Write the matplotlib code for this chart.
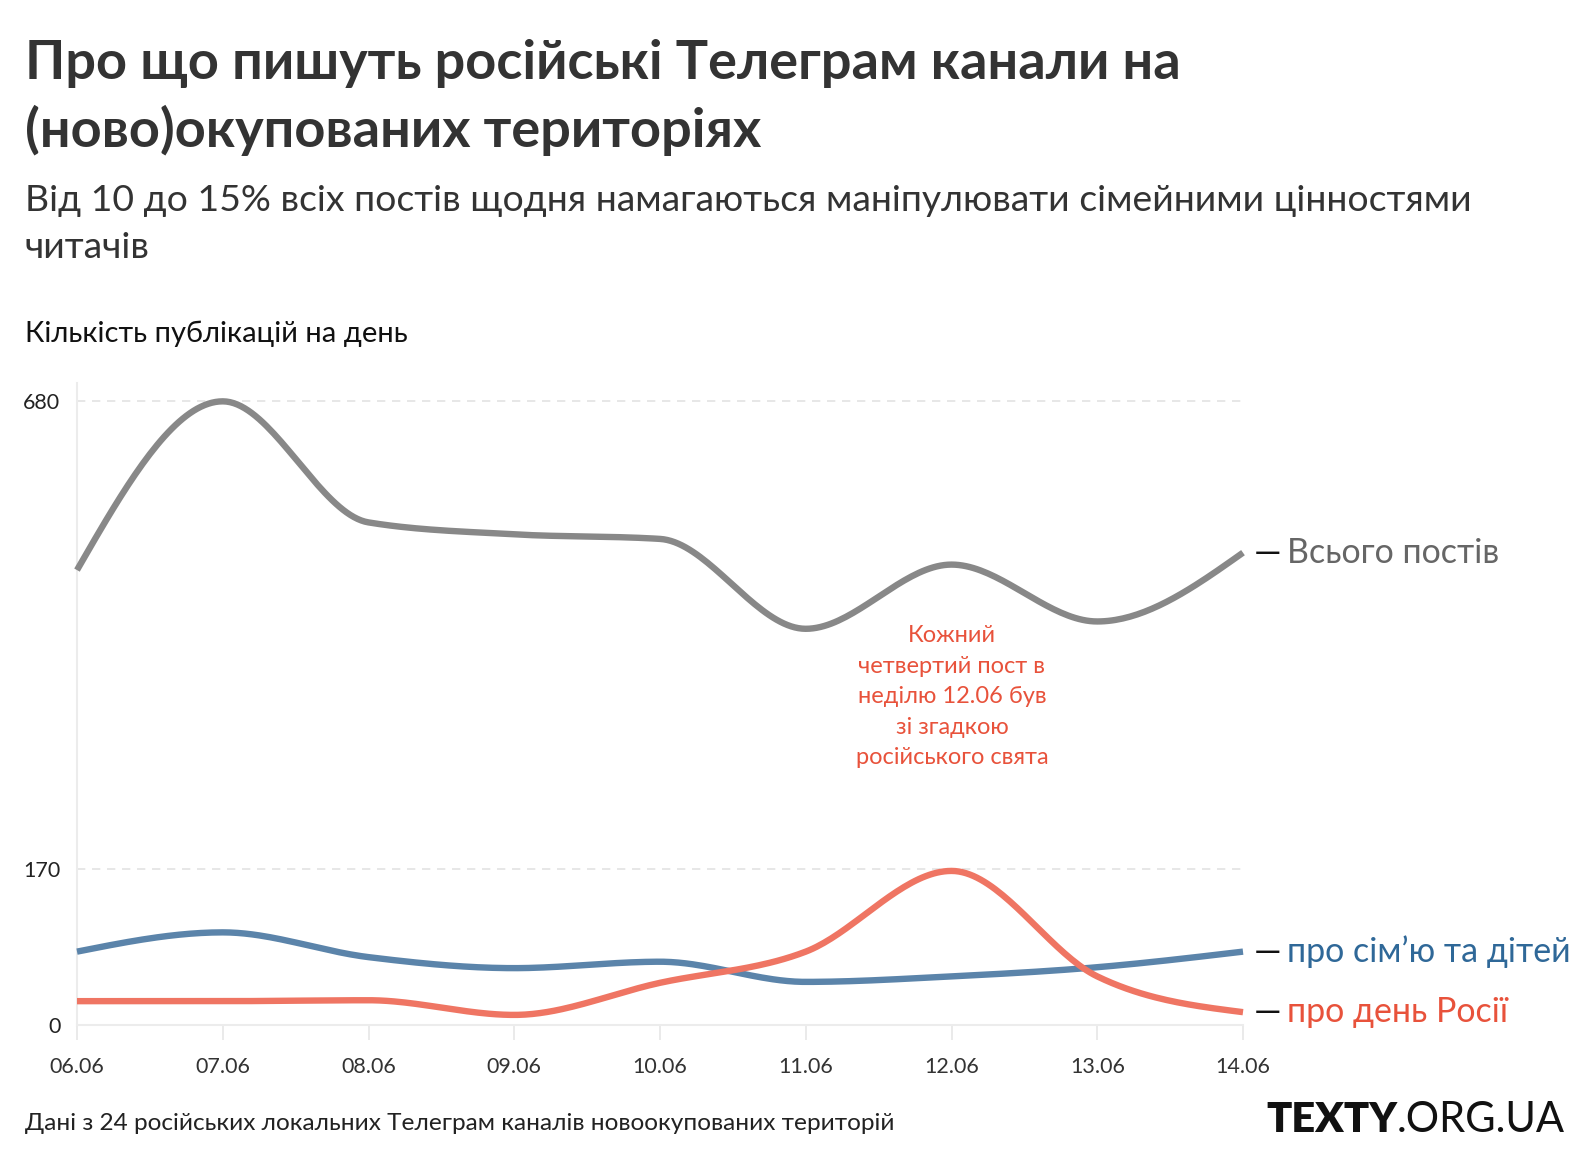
import numpy as np
import matplotlib
matplotlib.use("Agg")
import matplotlib.pyplot as plt

plt.rcParams['font.family'] = ['Lato', 'DejaVu Sans']

days = ["06.06", "07.06", "08.06", "09.06", "10.06", "11.06", "12.06", "13.06", "14.06"]
total_posts = [496, 680, 548, 535, 530, 432, 502, 440, 515]
family_posts = [80, 101, 74, 62, 69, 47, 53, 63, 80]
russia_day_posts = [26, 26, 27, 11, 46, 80, 168, 53, 14]
y_ticks = [0, 170, 680]


def monotone(xs, ys, n=40):
    # d3 curveMonotoneX style (Steffen) interpolation
    xs = np.asarray(xs, float)
    ys = np.asarray(ys, float)
    h = np.diff(xs)
    s = np.diff(ys) / h
    m = np.zeros(len(xs))
    for i in range(1, len(xs) - 1):
        p = (s[i - 1] * h[i] + s[i] * h[i - 1]) / (h[i - 1] + h[i])
        m[i] = (np.sign(s[i - 1]) + np.sign(s[i])) * min(abs(s[i - 1]), abs(s[i]), 0.5 * abs(p))
    m[0] = (3 * s[0] - m[1]) / 2
    m[-1] = (3 * s[-1] - m[-2]) / 2
    outx, outy = [], []
    for i in range(len(xs) - 1):
        t = np.linspace(0, 1, n, endpoint=False)
        h00 = 2 * t**3 - 3 * t**2 + 1
        h10 = t**3 - 2 * t**2 + t
        h01 = -2 * t**3 + 3 * t**2
        h11 = t**3 - t**2
        outx.extend(xs[i] + t * h[i])
        outy.extend(h00 * ys[i] + h10 * h[i] * m[i] + h01 * ys[i + 1] + h11 * h[i] * m[i + 1])
    outx.append(xs[-1])
    outy.append(ys[-1])
    return np.array(outx), np.array(outy)


W, H = 1588, 1172
fig = plt.figure(figsize=(W / 100, H / 100), dpi=100)
ax = fig.add_axes([77 / W, 1 - 1025 / H, (1243 - 77) / W, (1025 - 383) / H])

x = np.arange(len(days))
series = [
    (total_posts, "#888888"),
    (family_posts, "#5b84aa"),
    (russia_day_posts, "#ef7563"),
]
for vals, col in series:
    sx, sy = monotone(x, vals)
    ax.plot(sx, sy, color=col, lw=4.6, solid_capstyle="butt", zorder=3, clip_on=False)

ax.set_xlim(0, len(days) - 1)
ax.set_ylim(0, 700)
ax.set_xticks(x)
ax.set_xticklabels(days)
ax.set_yticks(y_ticks)
ax.set_yticklabels([str(v) for v in y_ticks])
for v in y_ticks[1:]:
    ax.axhline(v, color="#e3e3e3", lw=1.2, ls=(0, (5, 4)), zorder=1)
for sp in ["top", "right"]:
    ax.spines[sp].set_visible(False)
for sp in ["left", "bottom"]:
    ax.spines[sp].set_color("#ececec")
    ax.spines[sp].set_linewidth(1.5)
ax.tick_params(axis="x", length=11, width=1.2, color="#e6e6e6", labelsize=15.5, labelcolor="#333333", pad=12)
ax.tick_params(axis="y", length=0, labelsize=15.5, labelcolor="#222222", pad=12)

# series labels on the right
labels = [
    (total_posts[-1], "Всього постів", "#666666"),
    (family_posts[-1], "про сім’ю та дітей", "#2f6898"),
    (russia_day_posts[-1], "про день Росії", "#e8523b"),
]
for val, txt, col in labels:
    ax.annotate("—", xy=(len(days) - 1, val), xytext=(8, 0), textcoords="offset points",
                va="center", ha="left", fontsize=25, color="#111111", annotation_clip=False)
    ax.annotate(txt, xy=(len(days) - 1, val), xytext=(32, 0), textcoords="offset points",
                va="center", ha="left", fontsize=24.5, color=col, annotation_clip=False)

# annotation
note = ["Кожний", "четвертий пост в", "неділю 12.06 був", "зі згадкою", "російського свята"]
for i, line in enumerate(note):
    fig.text(952 / W, 1 - (636 + i * 30.4) / H, line, ha="center", va="center",
             fontsize=17, color="#e8523b")

# titles
fig.text(25 / W, 1 - 64 / H, "Про що пишуть російські Телеграм канали на",
         fontsize=39, fontweight="bold", color="#333333", va="center", ha="left")
fig.text(25 / W, 1 - 130 / H, "(ново)окупованих територіях",
         fontsize=39, fontweight="bold", color="#333333", va="center", ha="left")
fig.text(25 / W, 1 - 201 / H, "Від 10 до 15% всіх постів щодня намагаються маніпулювати сімейними цінностями",
         fontsize=26.9, color="#333333", va="center", ha="left")
fig.text(25 / W, 1 - 248 / H, "читачів",
         fontsize=26.9, color="#333333", va="center", ha="left")
fig.text(25 / W, 1 - 334 / H, "Кількість публікацій на день", fontsize=21, color="#111111",
         va="center", ha="left")
fig.text(25 / W, 1 - 1124 / H, "Дані з 24 російських локальних Телеграм каналів новоокупованих територій",
         fontsize=17.6, color="#222222", va="center", ha="left")
t1 = fig.text(1266 / W, 1 - 1120 / H, "TEXTY", fontsize=30, fontweight="heavy", color="#111111",
              va="center", ha="left")
fig.canvas.draw()
bb = t1.get_window_extent()
fig.text(bb.x1 / W, 1 - 1120 / H, ".ORG.UA", fontsize=30, color="#111111", va="center", ha="left")

fig.savefig("out.png", dpi=100)
